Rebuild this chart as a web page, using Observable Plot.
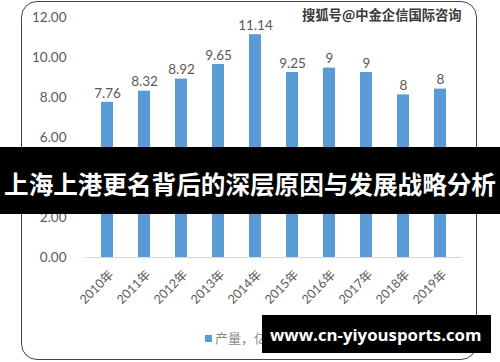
<!DOCTYPE html>
<html>
<head>
<meta charset="utf-8">
<script src="https://cdn.jsdelivr.net/npm/d3@7"></script>
<script src="https://cdn.jsdelivr.net/npm/@observablehq/plot@0.6"></script>
<style>
  html, body { margin: 0; padding: 0; background: #fff; }
  #wrap { position: relative; width: 500px; height: 362px; overflow: hidden; font-family: Lato, "Noto Sans CJK SC", sans-serif; }
  #frame { position: absolute; left: 21px; top: 1px; width: 456px; height: 359px; border: 1.5px solid #444; border-radius: 16px; box-sizing: border-box; pointer-events: none; }
  #wm { position: absolute; left: 302px; top: 5px; font: bold 13.3px "Noto Sans CJK SC", sans-serif; color: #3a3a3a; text-shadow: 0 0 2px #fff, 0 0 2px #fff; white-space: nowrap; }
  #legend { position: absolute; left: 205px; top: 328px; font: 13px "Noto Sans CJK SC", sans-serif; color: #8a8a8a; white-space: nowrap; }
  #legend span.sw { display: inline-block; width: 7px; height: 7px; background: #5b9bd5; margin-right: 3px; vertical-align: 1px; }
  #bandBlack { position: absolute; left: 0; top: 147px; width: 500px; height: 67px; background: #000; }
  #bandGray { position: absolute; left: 21px; top: 147px; width: 456px; height: 67px; background: rgba(0,0,0,0.6); }
  #bandText { position: absolute; left: 0; top: 147px; width: 500px; height: 67px; text-align: center; color: #fff; font: bold 24.6px/72px "Noto Sans CJK SC", sans-serif; white-space: nowrap; }
  #urlBlack { position: absolute; left: 262px; top: 315px; width: 229px; height: 38px; background: #000; }
  #urlGray { position: absolute; left: 262px; top: 315px; width: 215px; height: 38px; background: rgba(0,0,0,0.6); }
  #urlText { position: absolute; left: 270px; top: 315px; height: 38px; color: #fff; font: bold 16.8px/40px "Open Sans", sans-serif; white-space: nowrap; }
</style>
</head>
<body>
<div id="wrap">
  <div id="chart"></div>
</div>
<script>
const years = ["2010年","2011年","2012年","2013年","2014年","2015年","2016年","2017年","2018年","2019年"];
const values = [7.76, 8.32, 8.92, 9.65, 11.14, 9.25, 9.47, 9.25, 8.13, 8.42];
const labels = ["7.76","8.32","8.92","9.65","11.14","9.25","9","9","8","8"];
const yTicks = [0, 2, 4, 6, 8, 10, 12];
const seriesName = "产量，亿吨";
const watermark = "搜狐号@中金企信国际咨询";
const bannerText = "上海上港更名背后的深层原因与发展战略分析";
const urlText = "www.cn-yiyousports.com";

const data = years.map((y, i) => ({year: y, value: values[i], label: labels[i]}));

const chart = Plot.plot({
  width: 500,
  height: 362,
  marginLeft: 85,
  marginRight: 38,
  marginTop: 17,
  marginBottom: 105,
  style: {fontFamily: "Lato, 'Noto Sans CJK SC', sans-serif", background: "transparent"},
  x: {domain: years, paddingInner: 0.68, paddingOuter: 0.34, label: null},
  y: {domain: [0, 12], label: null},
  marks: [
    Plot.ruleY([0], {stroke: "#d9d9d9", strokeWidth: 1}),
    Plot.barY(data, {x: "year", y: "value", fill: "#5b9bd5"}),
    Plot.text(data, {x: "year", y: "value", text: "label", dy: -9, fill: "#595959", fontSize: 13.5}),
    Plot.axisY(yTicks, {tickSize: 0, tickPadding: 19, tickFormat: d => d.toFixed(2), fill: "#595959", fontSize: 13.5, label: null}),
    Plot.axisX({tickSize: 0, tickPadding: 15, tickRotate: -45, fill: "#595959", fontSize: 12.5, dx: 4, label: null})
  ]
});
document.getElementById("chart").appendChild(chart);

const wrap = document.getElementById("wrap");
function add(id) { const d = document.createElement("div"); d.id = id; wrap.appendChild(d); return d; }
add("frame");
add("wm").textContent = watermark;
const lg = add("legend"); lg.innerHTML = '<span class="sw"></span>'; lg.appendChild(document.createTextNode(seriesName));
add("bandBlack"); add("bandGray"); add("bandText").textContent = bannerText;
add("urlBlack"); add("urlGray"); add("urlText").textContent = urlText;
</script>
</body>
</html>
